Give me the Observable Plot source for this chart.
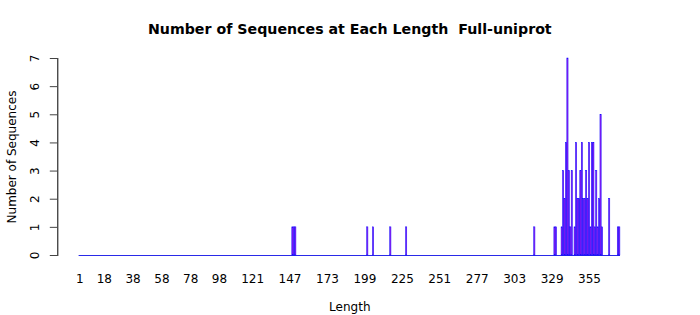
<!DOCTYPE html>
<html>
<head>
<meta charset="utf-8">
<script src="https://cdn.jsdelivr.net/npm/d3@7"></script>
<script src="https://cdn.jsdelivr.net/npm/@observablehq/plot@0.6"></script>
<style>
  html, body { margin: 0; padding: 0; background: #fff; }
  svg { font-family: "DejaVu Sans", sans-serif; }
</style>
</head>
<body>
<div id="chart"></div>
<script>
// Sequence lengths with non-zero counts, and their counts
const lengths = [149, 150, 151, 201, 205, 217, 228, 317, 331, 332,
  336, 337, 338, 339, 340, 341, 342, 343, 345, 346, 347, 348, 349, 350,
  351, 352, 353, 354, 355, 356, 357, 358, 359, 360, 361, 362, 363, 364,
  369, 375, 376];
const counts = [1, 1, 1, 1, 1, 1, 1, 1, 1, 1,
  1, 3, 2, 4, 7, 3, 1, 3, 1, 4, 2, 2, 3, 4,
  2, 2, 3, 2, 4, 1, 4, 4, 1, 3, 1, 2, 5, 1,
  2, 1, 1];
const minLen = 1;
const maxLen = 376;
const xTicks = [1, 18, 38, 58, 78, 98, 121, 147, 173, 199, 225, 251, 277, 303, 329, 355];
const yTicks = [0, 1, 2, 3, 4, 5, 6, 7];
const title = "Number of Sequences at Each Length  Full-uniprot";
const xLabel = "Length";
const yLabel = "Number of Sequences";

const table = lengths.map((len, i) => ({len, count: counts[i]}));
const domain = d3.range(minLen, maxLen + 1);

const font = "DejaVu Sans";
const chart = Plot.plot({
  width: 700,
  height: 315,
  marginTop: 58,
  marginBottom: 60,
  marginLeft: 78.6,
  marginRight: 80,
  style: {fontFamily: font, background: "#fff"},
  x: {type: "band", domain, paddingInner: 0.167, paddingOuter: 0.0835, axis: null},
  y: {domain: [0, 7], axis: null},
  marks: [
    Plot.ruleY([0], {stroke: "#2a2ae8", strokeWidth: 1}),
    Plot.barY(table, {x: "len", y: "count", fill: "#a020f0", stroke: "#0000ff", strokeWidth: 0.5}),
    // y axis spine and ticks
    Plot.frame({anchor: "left", dx: -21.3, stroke: "#000"}),
    Plot.axisY(yTicks, {anchor: "left", tickSize: 7.5, text: null, label: null, dx: -21.3, stroke: "#444"}),
    Plot.text(yTicks, {y: d => d, text: d => String(d), frameAnchor: "left", dx: -44, rotate: -90,
      textAnchor: "middle", lineAnchor: "middle", fontSize: 12, fill: "#000"}),
    // x tick labels
    Plot.text(xTicks, {x: d => d, text: d => String(d), frameAnchor: "bottom", dy: 24,
      textAnchor: "middle", lineAnchor: "middle", fontSize: 12, fill: "#000"}),
    // axis titles
    Plot.text([xLabel], {text: d => d, frameAnchor: "bottom", dy: 52, lineAnchor: "middle", fontSize: 12, fill: "#000"}),
    Plot.text([yLabel], {text: d => d, frameAnchor: "left", dx: -67, rotate: -90, textAnchor: "middle",
      lineAnchor: "middle", fontSize: 12, fill: "#000"}),
    // title
    Plot.text([title], {text: d => d, frameAnchor: "top", dy: -29, lineAnchor: "middle",
      fontSize: 14.2, fontWeight: "bold", fill: "#000"})
  ]
});
document.getElementById("chart").appendChild(chart);
</script>
</body>
</html>
